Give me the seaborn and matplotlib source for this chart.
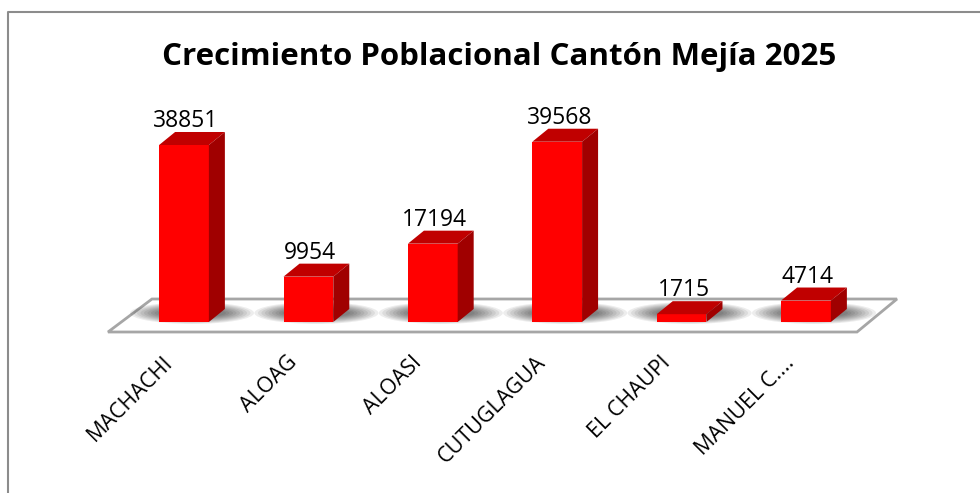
import matplotlib
matplotlib.use("Agg")
import matplotlib.pyplot as plt
import seaborn as sns
from matplotlib.patches import Polygon, Ellipse
from matplotlib.lines import Line2D

categories = ["MACHACHI", "ALOAG", "ALOASI", "CUTUGLAGUA", "EL CHAUPI", "MANUEL C...."]
population = [38851, 9954, 17194, 39568, 1715, 4714]
title = "Crecimiento Poblacional Cantón Mejía 2025"

W, H = 980, 493
FRONT = "#FF0000"
TOP = "#C00000"
SIDE = "#A00000"

sns.set_style("white")
plt.rcParams["font.family"] = ["Open Sans", "DejaVu Sans"]

fig = plt.figure(figsize=(W / 100, H / 100), dpi=100)

# axes placed in pixels so one category step is ~124 px
step_px = 124.4
y_max = 45000
px_per_unit = 0.004556
left_px = 184 - 0.5 * step_px
base_px = H - 322
ax = fig.add_axes([left_px / W, base_px / H, 6 * step_px / W, y_max * px_per_unit / H])

sx = 1 / step_px        # data x per pixel
sy = 1 / px_per_unit    # data y per pixel

sns.barplot(x=categories, y=population, color=FRONT, saturation=1, width=0.4,
            ax=ax, zorder=4)
bars = list(ax.containers[0])
ax.set_xlim(-0.5, 5.5)
ax.set_ylim(0, y_max)
ax.axis("off")

# floor plate
floor = Polygon([((108 - 184) * sx, -10 * sy), ((857 - 184) * sx, -10 * sy),
                 ((897 - 184) * sx, 23 * sy), ((152 - 184) * sx, 23 * sy)],
                closed=True, facecolor="white", edgecolor="#A6A6A6", lw=2,
                clip_on=False, zorder=1)
ax.add_patch(floor)

dx, dy = 16 * sx, 13 * sy
for i, bar in enumerate(bars):
    x0 = bar.get_x()
    w = bar.get_width()
    h = bar.get_height()
    bar.set_clip_on(False)
    bar.set_edgecolor("none")
    # soft shadow on the floor
    cx = x0 + w / 2 + 8 * sx
    for k in range(9):
        ax.add_patch(Ellipse((cx, 9 * sy), (124 - 7 * k) * sx, (22 - 1.6 * k) * sy,
                             facecolor="black", alpha=0.07, lw=0,
                             clip_on=False, zorder=2))
    ax.add_patch(Polygon([(x0, h), (x0 + w, h), (x0 + w + dx, h + dy), (x0 + dx, h + dy)],
                         closed=True, facecolor=TOP, lw=0, clip_on=False, zorder=5))
    ax.add_patch(Polygon([(x0 + w, 0), (x0 + w + dx, dy), (x0 + w + dx, h + dy), (x0 + w, h)],
                         closed=True, facecolor=SIDE, lw=0, clip_on=False, zorder=5))
    ax.text(x0 + w / 2 + 2 * sx, h + dy + 5 * sy, str(population[i]),
            ha="center", va="baseline", fontsize=16.5, color="black", zorder=6)

# category labels, rotated under each bar
for i, name in enumerate(categories):
    ax.text(i - 22 * sx, -30 * sy, name, rotation=45,
            rotation_mode="anchor", ha="right", va="top", fontsize=15.5,
            color="black", clip_on=False)

fig.text(499 / W, 1 - 57 / H, title, ha="center", va="center",
         fontsize=22.5, fontweight="bold", color="black")

# chart border (top and left visible)
fig.add_artist(Line2D([7.5 / W, 7.5 / W, 1], [0, 1 - 12 / H, 1 - 12 / H],
                      transform=fig.transFigure, color="#8C8C8C", lw=1.5))

fig.savefig("out.png", dpi=100)
